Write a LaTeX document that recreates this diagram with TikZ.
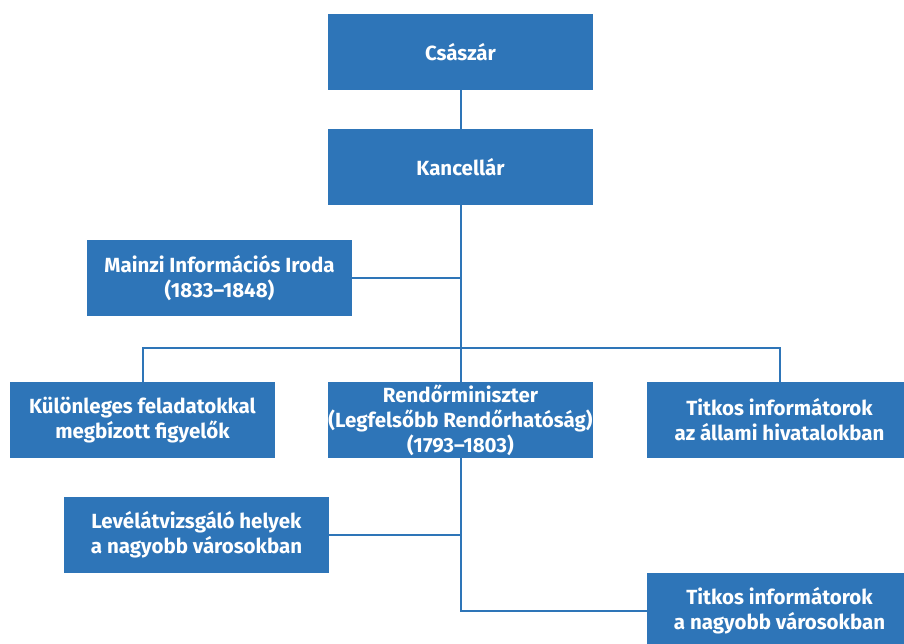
\documentclass[tikz,border=0pt]{standalone}
\usepackage{fontspec}
\setmainfont{Fira Sans}
\usepackage{tikz}
\usetikzlibrary{positioning}
\definecolor{orgblue}{RGB}{46,117,184}
\tikzset{%
  unit/.style={fill=orgblue,text=white,font=\bfseries\fontsize{20.5}{25}\selectfont,
    minimum width=265pt,minimum height=76pt,inner sep=0pt,align=center},
  link/.style={draw=orgblue,line width=2pt}
}

\begin{document}
\begin{tikzpicture}[x=1pt,y=-1pt]
    
        \useasboundingbox (0,0) rectangle (904,644); % Frame
        
        % Boxes
        \node[unit] (csaszar) at (460.5,52) {Császár};
        \node[unit] (kancellar) at (460.5,167) {Kancellár};
        \node[unit] (mainz) at (219.5,278) {Mainzi Információs Iroda\\(1833–1848)};
        \node[unit] (kulon) at (142.5,420) {Különleges feladatokkal\\megbízott figyelők};
        \node[unit] (rendor) at (460.5,420) {Rendőrminiszter\\(Legfelsőbb Rendőrhatóság)\\(1793–1803)};
        \node[unit] (titkosA) at (779.5,420) {Titkos informátorok\\az állami hivatalokban};
        \node[unit] (level) at (196.5,535) {Levélátvizsgáló helyek\\a nagyobb városokban};
        \node[unit] (titkosB) at (779.5,611) {Titkos informátorok\\a nagyobb városokban};
        
        \coordinate (bar) at (460.5,348);
        
        % Connectors
        \draw[link] (csaszar) -- (kancellar);
        \draw[link] (kancellar) -- (rendor);
        \draw[link] (mainz.east) -- (mainz.east -| kancellar.south);
        \draw[link] (kulon.north) |- (bar) -| (titkosA.north);
        \draw[link] (level.east) -- (level.east -| rendor.south);
        \draw[link] (rendor.south) |- (titkosB.west);
        
    \end{tikzpicture}
\end{document}
